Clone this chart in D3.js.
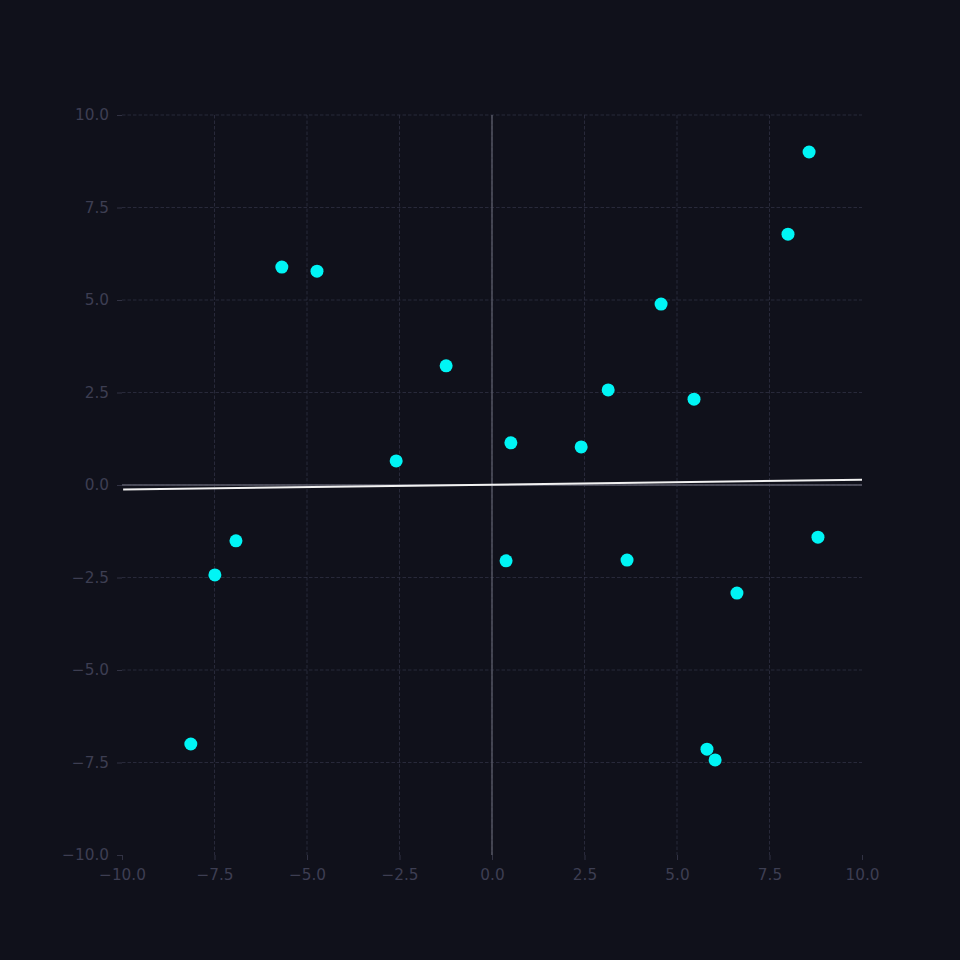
<!DOCTYPE html>
<html>
<head>
<meta charset="utf-8">
<script src="https://cdn.jsdelivr.net/npm/d3@7"></script>
<style>
  html, body { margin: 0; padding: 0; background: #10111b; }
  svg { display: block; }
</style>
</head>
<body>
<svg id="chart" width="960" height="960"></svg>
<script>
// scatter points
var pointX = [8.57, 8.0, -5.68, -4.73, 4.57, -1.24, 3.14, 5.46, 0.51, 2.41,
              -2.59, -6.92, 8.81, -7.49, 0.38, 3.65, 6.62, -8.14, 5.81, 6.03];
var pointY = [9.0, 6.78, 5.89, 5.78, 4.89, 3.22, 2.57, 2.32, 1.14, 1.03,
              0.65, -1.51, -1.41, -2.43, -2.05, -2.03, -2.92, -7.0, -7.14, -7.43];

// fitted line end points
var lineX = [-9.97, 10.0];
var lineY = [-0.12, 0.14];

var tickValues = [-10, -7.5, -5, -2.5, 0, 2.5, 5, 7.5, 10];

var svg = d3.select("#chart");

// plot box
var margin = {top: 115, right: 98, bottom: 105, left: 122},
    width = +svg.attr("width") - margin.left - margin.right,
    height = +svg.attr("height") - margin.top - margin.bottom;

var x = d3.scaleLinear().domain([-10, 10]).range([0, width]);
var y = d3.scaleLinear().domain([-10, 10]).range([height, 0]);

var g = svg.append("g")
    .attr("transform", "translate(" + margin.left + "," + margin.top + ")");

var fmt = function(d) { return d3.format(".1f")(d).replace("-", "\u2212"); };

// grid (the edge lines on -10 / 10 are hidden behind the frame in the original)
g.append("g").selectAll("line")
    .data(tickValues.filter(function(d) { return d > -10 && d < 10; }))
    .enter().append("line")
    .attr("x1", function(d) { return x(d); })
    .attr("x2", function(d) { return x(d); })
    .attr("y1", 0).attr("y2", height)
    .attr("stroke", "#2f3042")
    .attr("stroke-width", 0.8)
    .attr("stroke-dasharray", "3.5,2");

g.append("g").selectAll("line")
    .data(tickValues.filter(function(d) { return d > -10; }))
    .enter().append("line")
    .attr("y1", function(d) { return y(d); })
    .attr("y2", function(d) { return y(d); })
    .attr("x1", 0).attr("x2", width)
    .attr("stroke", "#2f3042")
    .attr("stroke-width", 0.8)
    .attr("stroke-dasharray", "3.5,2");

// zero lines
g.append("line")
    .attr("x1", 0).attr("x2", width)
    .attr("y1", y(0)).attr("y2", y(0))
    .attr("stroke", "#5c5d6b").attr("stroke-width", 1.3);
g.append("line")
    .attr("x1", x(0)).attr("x2", x(0))
    .attr("y1", 0).attr("y2", height)
    .attr("stroke", "#5c5d6b").attr("stroke-width", 1.3);

// axes
var xAxis = g.append("g")
    .attr("transform", "translate(0," + height + ")")
    .call(d3.axisBottom(x).tickValues(tickValues).tickFormat(fmt).tickSize(5).tickPadding(9));
var yAxis = g.append("g")
    .call(d3.axisLeft(y).tickValues(tickValues).tickFormat(fmt).tickSize(5).tickPadding(8));

[xAxis, yAxis].forEach(function(a) {
    a.select(".domain").remove();
    a.selectAll(".tick line").attr("stroke", "#3a3b4e").attr("stroke-width", 0.8);
    a.selectAll(".tick text")
        .attr("fill", "#3d3e52")
        .style("font-family", "'DejaVu Sans', sans-serif")
        .style("font-size", "15.3px");
});

// fitted line
var lineData = lineX.map(function(d, i) { return [d, lineY[i]]; });
g.append("path")
    .datum(lineData)
    .attr("fill", "none")
    .attr("stroke", "#f2f2f2")
    .attr("stroke-width", 2)
    .attr("d", d3.line()
        .x(function(d) { return x(d[0]); })
        .y(function(d) { return y(d[1]); }));

// points
var pts = pointX.map(function(d, i) { return {x: d, y: pointY[i]}; });
g.selectAll(".dot")
    .data(pts)
    .enter().append("circle")
    .attr("class", "dot")
    .attr("cx", function(d) { return x(d.x); })
    .attr("cy", function(d) { return y(d.y); })
    .attr("r", 6.5)
    .style("fill", "#00f5f5");
</script>
</body>
</html>
